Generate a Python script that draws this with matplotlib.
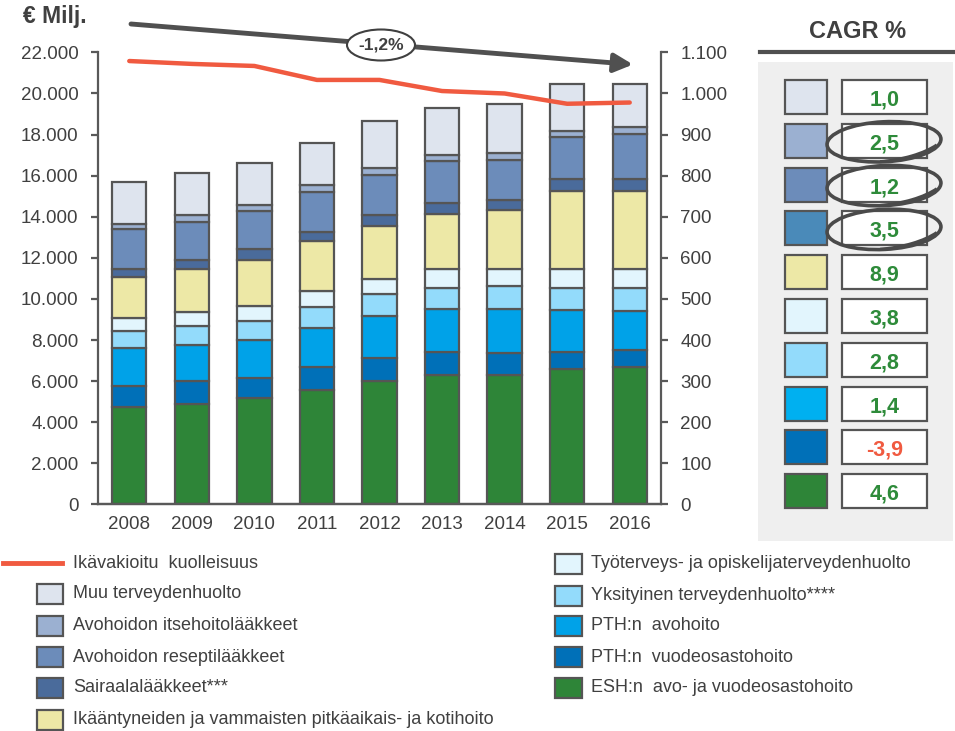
import numpy as np
import matplotlib
matplotlib.use("Agg")
import matplotlib.pyplot as plt
from matplotlib.patches import Rectangle, Ellipse, Arc
from matplotlib.ticker import FuncFormatter, MultipleLocator

plt.rcParams['font.family'] = ['Liberation Sans', 'DejaVu Sans']

years = ['2008', '2009', '2010', '2011', '2012', '2013', '2014', '2015', '2016']

# health care costs, € million, bottom -> top of the stack
esh = [4720, 4890, 5160, 5570, 6000, 6310, 6310, 6570, 6670]
pth_vuode = [1030, 1130, 1010, 1100, 1120, 1120, 1060, 860, 860]
pth_avo = [1850, 1740, 1830, 1910, 2060, 2080, 2140, 2010, 1900]
yksityinen = [850, 920, 940, 1030, 1040, 1010, 1120, 1080, 1090]
tyoterveys = [640, 700, 730, 760, 750, 950, 840, 950, 950]
ikaantyneet = [1960, 2070, 2220, 2430, 2590, 2660, 2860, 3780, 3780]
sairaala = [400, 440, 520, 470, 520, 550, 480, 580, 580]
resepti = [1950, 1870, 1850, 1930, 1950, 2030, 1950, 2030, 2190]
itsehoito = [250, 320, 320, 340, 320, 290, 320, 330, 340]
muu = [2020, 2030, 2030, 2060, 2290, 2290, 2390, 2270, 2100]

# age-standardised mortality (right axis)
kuolleisuus = [1079, 1072, 1067, 1033, 1033, 1006, 1000, 975, 978]

series = [
    ("ESH:n  avo- ja vuodeosastohoito", esh, '#2e8538'),
    ("PTH:n  vuodeosastohoito", pth_vuode, '#0070b8'),
    ("PTH:n  avohoito", pth_avo, '#00a2e8'),
    ("Yksityinen terveydenhuolto****", yksityinen, '#93dbfb'),
    ("Työterveys- ja opiskelijaterveydenhuolto", tyoterveys, '#e2f5fd'),
    ("Ikääntyneiden ja vammaisten pitkäaikais- ja kotihoito", ikaantyneet, '#ede8a6'),
    ("Sairaalalääkkeet***", sairaala, '#4a6b9b'),
    ("Avohoidon reseptilääkkeet", resepti, '#6c8cba'),
    ("Avohoidon itsehoitolääkkeet", itsehoito, '#9bb0d1'),
    ("Muu terveydenhuolto", muu, '#dee4ee'),
]

cagr_labels = ['1,0', '2,5', '1,2', '3,5', '8,9', '3,8', '2,8', '1,4', '-3,9', '4,6']
cagr_colors = ['#dee4ee', '#9bb0d1', '#6c8cba', '#4a8ab9', '#ede8a6',
               '#e2f5fd', '#93dbfb', '#00b0f0', '#0070b8', '#2e8538']

growth_label = '-1,2%'

EDGE = '#555555'
TXT = '#404040'
GREEN = '#2e8b3a'
RED = '#f05a40'

fig = plt.figure(figsize=(9.55, 7.31), dpi=100)
ax = fig.add_axes([98 / 955, 1 - 504.4 / 731, 563 / 955, 452 / 731])
ax2 = ax.twinx()

x = np.arange(len(years))
bottom = np.zeros(len(years))
for name, vals, col in series:
    ax.bar(x, vals, 0.55, bottom=bottom, color=col, edgecolor=EDGE,
           linewidth=1.6, zorder=2)
    bottom += np.array(vals)

ax.set_xlim(-0.5, 8.5)
ax.set_ylim(0, 22000)
ax.yaxis.set_major_locator(MultipleLocator(2000))
thousands = FuncFormatter(lambda v, p: f"{int(v):,}".replace(',', '.'))
ax.yaxis.set_major_formatter(thousands)
ax.set_xticks(x)
ax.set_xticklabels(years)

ax2.plot(x, kuolleisuus, color=RED, lw=3.2, solid_capstyle='round', zorder=5)
ax2.set_ylim(0, 1100)
ax2.yaxis.set_major_locator(MultipleLocator(100))
ax2.yaxis.set_major_formatter(thousands)

for a in (ax, ax2):
    a.spines['top'].set_visible(False)
    for s in ('left', 'right', 'bottom'):
        a.spines[s].set_color('#595959')
        a.spines[s].set_linewidth(1.6)
    a.tick_params(axis='y', length=5, width=1.6, color='#595959',
                  labelsize=13.5, labelcolor=TXT, pad=9)
    a.tick_params(axis='x', length=0, labelsize=13.5, labelcolor=TXT, pad=8)
ax.spines['right'].set_visible(False)
ax2.spines['left'].set_visible(False)

# overlay in pixel coordinates for the notes, the CAGR panel and the legend
ov = fig.add_axes([0, 0, 1, 1], zorder=10)
ov.set_xlim(0, 955)
ov.set_ylim(731, 0)
ov.set_axis_off()
ov.patch.set_alpha(0)

ov.text(23, 17, '€ Milj.', fontsize=16.5, fontweight='bold', color=TXT,
        ha='left', va='center')

ov.annotate('', xy=(633, 64.5), xytext=(131, 24),
            arrowprops=dict(arrowstyle='-|>', lw=3.5, color='#505050',
                            mutation_scale=28, shrinkA=0, shrinkB=0))
ov.add_patch(Ellipse((381, 45), 68, 31, facecolor='white', edgecolor=TXT,
                     lw=1.5, zorder=3))
ov.text(381, 45.5, growth_label, fontsize=12.5, fontweight='bold', color=TXT,
        ha='center', va='center', zorder=4)

# CAGR panel
ov.add_patch(Rectangle((758, 62), 195, 479, facecolor='#efefef',
                       edgecolor='none', zorder=0))
ov.plot([760, 953], [52, 52], color='#505050', lw=3)
ov.text(858, 31, 'CAGR %', fontsize=17, fontweight='bold', color=TXT,
        ha='center', va='center')

row_top = 80
row_gap = 43.8
for i, (lab, col) in enumerate(zip(cagr_labels, cagr_colors)):
    y0 = row_top + i * row_gap
    ov.add_patch(Rectangle((785, y0), 42, 34, facecolor=col, edgecolor=EDGE,
                           lw=1.6, zorder=2))
    ov.add_patch(Rectangle((842, y0), 85, 34, facecolor='white',
                           edgecolor=EDGE, lw=1.6, zorder=2))
    ov.text(884.5, y0 + 20, lab, fontsize=15.5, fontweight='bold',
            color=RED if lab.startswith('-') else GREEN,
            ha='center', va='center', zorder=3)

# pen circles round three of the rates
for i in (1, 2, 3):
    cy = row_top + i * row_gap + 18
    ov.add_patch(Ellipse((884, cy), 114, 40, angle=-3, fill=False,
                         edgecolor='#4a4a4a', lw=2.6, zorder=4))
    ov.add_patch(Arc((887, cy - 3), 120, 44, angle=-8, theta1=15, theta2=115,
                     edgecolor='#4a4a4a', lw=2.2, zorder=4))

# legend
ov.plot([3, 62], [563, 563], color=RED, lw=3.5)
ov.text(73, 563, 'Ikävakioitu  kuolleisuus', fontsize=13, color=TXT,
        ha='left', va='center')

left_col = [series[9], series[8], series[7], series[6], series[5]]
right_col = [series[4], series[3], series[2], series[1], series[0]]
left_y = [594, 626, 657, 688, 720]
right_y = [564, 596, 626, 657, 688]
for (name, vals, col), yy in zip(left_col, left_y):
    ov.add_patch(Rectangle((37, yy - 10), 26, 20, facecolor=col,
                           edgecolor=EDGE, lw=1.6))
    ov.text(73, yy, name, fontsize=13, color=TXT, ha='left', va='center')
for (name, vals, col), yy in zip(right_col, right_y):
    ov.add_patch(Rectangle((555, yy - 10), 27, 20, facecolor=col,
                           edgecolor=EDGE, lw=1.6))
    ov.text(591, yy, name, fontsize=13, color=TXT, ha='left', va='center')

fig.savefig('out.png', dpi=100)
